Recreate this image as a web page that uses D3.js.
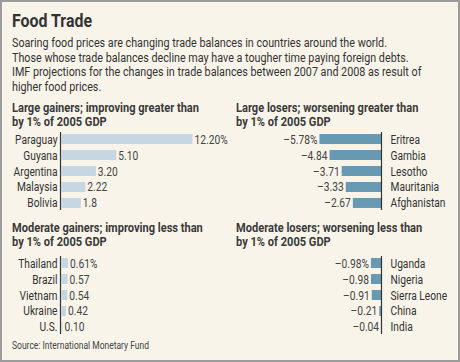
<!DOCTYPE html>
<html>
<head>
<meta charset="utf-8">
<script src="https://cdn.jsdelivr.net/npm/d3@7"></script>
<style>
  body { margin: 0; background: #fff; }
  text { font-family: Roboto, "Noto Sans", sans-serif; }
</style>
</head>
<body>
<div id="chart"></div>
<script>
// values (% of 2005 GDP)
const largeGainers = ["Paraguay", "Guyana", "Argentina", "Malaysia", "Bolivia"];
const largeGainerValues = [12.20, 5.10, 3.20, 2.22, 1.8];
const largeGainerLabels = ["12.20%", "5.10", "3.20", "2.22", "1.8"];

const largeLosers = ["Eritrea", "Gambia", "Lesotho", "Mauritania", "Afghanistan"];
const largeLoserValues = [-5.78, -4.84, -3.71, -3.33, -2.67];
const largeLoserLabels = ["\u20135.78%", "\u20134.84", "\u20133.71", "\u20133.33", "\u20132.67"];

const modGainers = ["Thailand", "Brazil", "Vietnam", "Ukraine", "U.S."];
const modGainerValues = [0.61, 0.57, 0.54, 0.42, 0.10];
const modGainerLabels = ["0.61%", "0.57", "0.54", "0.42", "0.10"];

const modLosers = ["Uganda", "Nigeria", "Sierra Leone", "China", "India"];
const modLoserValues = [-0.98, -0.98, -0.91, -0.21, -0.04];
const modLoserLabels = ["\u20130.98%", "\u20130.98", "\u20130.91", "\u20130.21", "\u20130.04"];

const subtitle = [
  "Soaring food prices are changing trade balances in countries around the world.",
  "Those whose trade balances decline may have a tougher time paying foreign debts.",
  "IMF projections for the changes in trade balances between 2007 and 2008 as result of",
  "higher food prices."
];

const width = 460, height = 362;
const svg = d3.select("#chart").append("svg")
  .attr("width", width)
  .attr("height", height);

// squeeze text horizontally, the original uses a narrow face
function squeeze(sel, factor) {
  sel.each(function() {
    const w = this.getComputedTextLength();
    d3.select(this).attr("textLength", w * factor).attr("lengthAdjust", "spacingAndGlyphs");
  });
}
function factorFor(size, weight, str, target) {
  const t = svg.append("text").attr("font-size", size).attr("font-weight", weight).text(str);
  const w = t.node().getComputedTextLength();
  t.remove();
  return target / w;
}

const labelFactor = factorFor(12.5, "normal", "Afghanistan", 55);
const headFactor = factorFor(13, "bold", "Large gainers; improving greater than", 187);
const subFactor = factorFor(12.5, "normal", subtitle[0], 375);

svg.append("rect")
  .attr("x", 1).attr("y", 1)
  .attr("width", width - 2).attr("height", height - 2)
  .attr("fill", "#f8f4ea")
  .attr("stroke", "#9c9c9c")
  .attr("stroke-width", 2);

svg.append("text")
  .attr("x", 12).attr("y", 27)
  .attr("font-size", 17.5)
  .attr("font-weight", "bold")
  .attr("fill", "#333")
  .text("Food Trade")
  .call(squeeze, factorFor(17.5, "bold", "Food Trade", 80));

svg.append("g").selectAll("text")
  .data(subtitle)
  .enter().append("text")
  .attr("x", 12)
  .attr("y", (d, i) => 47 + i * 14.5)
  .attr("font-size", 12.5)
  .attr("fill", "#333")
  .text(d => d)
  .call(squeeze, subFactor);

// same scale for every panel
const x = d3.scaleLinear().domain([0, 12.2]).range([0, 131]);

function panel(opts) {
  const g = svg.append("g");
  g.selectAll(".head")
    .data(opts.head)
    .enter().append("text")
    .attr("x", opts.headX)
    .attr("y", (d, i) => opts.headY + i * 14)
    .attr("font-size", 13)
    .attr("font-weight", "bold")
    .attr("fill", "#3a3a3a")
    .text(d => d)
    .call(squeeze, headFactor);

  const y = d3.scaleBand()
    .domain(opts.names)
    .range([opts.top, opts.top + 80])
    .paddingInner(0.375)
    .paddingOuter(0.19);

  const rows = opts.names.map((n, i) => ({ name: n, value: opts.values[i], label: opts.labels[i] }));
  const gain = opts.side === "gain";

  g.selectAll("rect.bar")
    .data(rows)
    .enter().append("rect")
    .attr("class", "bar")
    .attr("x", d => gain ? opts.axisX + 1 : opts.axisX - x(Math.abs(d.value)))
    .attr("y", d => y(d.name))
    .attr("width", d => x(Math.abs(d.value)))
    .attr("height", y.bandwidth())
    .attr("fill", gain ? "#c6d6e3" : "#6899b3");

  g.append("line")
    .attr("x1", opts.axisX).attr("x2", opts.axisX)
    .attr("y1", opts.top + 1).attr("y2", opts.top + 79)
    .attr("stroke", "#333")
    .attr("stroke-width", 1.2);

  // country names
  g.selectAll("text.name")
    .data(rows)
    .enter().append("text")
    .attr("class", "name")
    .attr("x", gain ? opts.axisX - 3 : opts.axisX + 9)
    .attr("y", d => y(d.name) + y.bandwidth() / 2 + 4.5)
    .attr("text-anchor", gain ? "end" : "start")
    .attr("font-size", 12.5)
    .attr("fill", "#333")
    .text(d => d.name)
    .call(squeeze, labelFactor);

  // values
  g.selectAll("text.val")
    .data(rows)
    .enter().append("text")
    .attr("class", "val")
    .attr("x", d => gain ? opts.axisX + x(Math.abs(d.value)) + 3 : opts.axisX - x(Math.abs(d.value)) - 2)
    .attr("y", d => y(d.name) + y.bandwidth() / 2 + 4.5)
    .attr("text-anchor", gain ? "start" : "end")
    .attr("font-size", 12.5)
    .attr("fill", "#444")
    .text(d => d.label)
    .call(squeeze, labelFactor);
}

panel({
  head: ["Large gainers; improving greater than", "by 1% of 2005 GDP"],
  headX: 12, headY: 112, top: 131, axisX: 60.5, side: "gain",
  names: largeGainers, values: largeGainerValues, labels: largeGainerLabels
});
panel({
  head: ["Large losers; worsening greater than", "by 1% of 2005 GDP"],
  headX: 236, headY: 112, top: 131, axisX: 381.5, side: "lose",
  names: largeLosers, values: largeLoserValues, labels: largeLoserLabels
});
panel({
  head: ["Moderate gainers; improving less than", "by 1% of 2005 GDP"],
  headX: 12, headY: 232, top: 255, axisX: 60.5, side: "gain",
  names: modGainers, values: modGainerValues, labels: modGainerLabels
});
panel({
  head: ["Moderate losers; worsening less than", "by 1% of 2005 GDP"],
  headX: 236, headY: 232, top: 255, axisX: 381.5, side: "lose",
  names: modLosers, values: modLoserValues, labels: modLoserLabels
});

svg.append("text")
  .attr("x", 12).attr("y", 349)
  .attr("font-size", 10)
  .attr("fill", "#444")
  .text("Source: International Monetary Fund")
  .call(squeeze, factorFor(10, "normal", "Source: International Monetary Fund", 137));
</script>
</body>
</html>
